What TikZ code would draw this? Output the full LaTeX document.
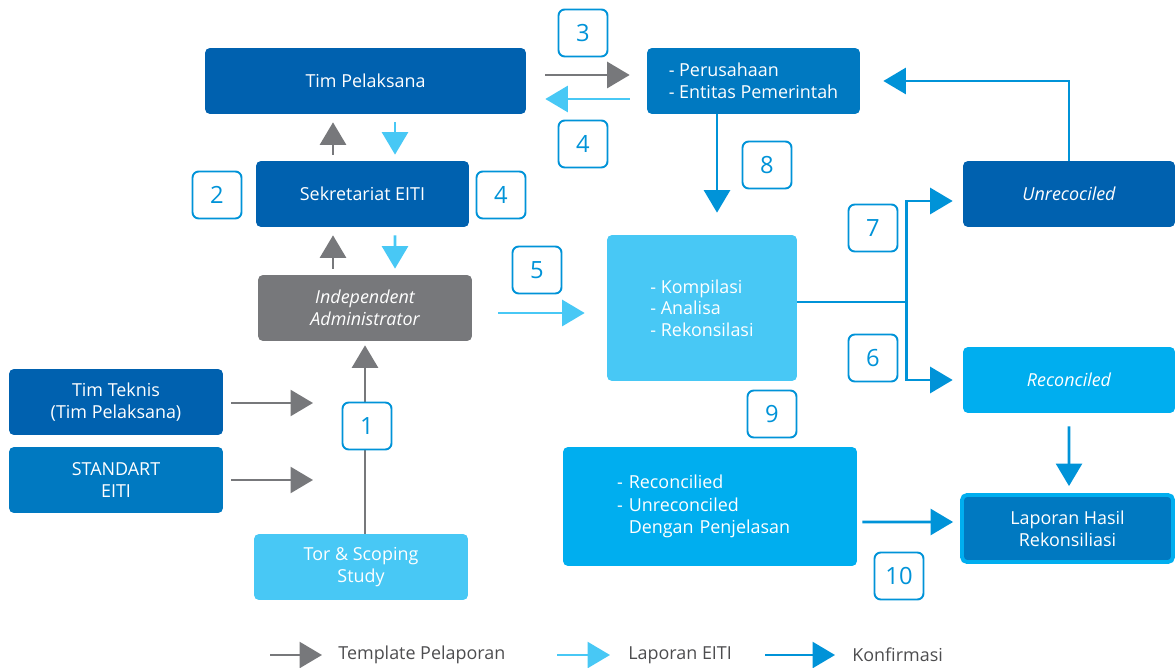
\documentclass[tikz,border=0pt]{standalone}
\usepackage{fontspec}
\setmainfont{Open Sans}
\usetikzlibrary{arrows.meta,calc}

\definecolor{eitidark}{RGB}{0,97,175}
\definecolor{eitimid}{RGB}{0,121,193}
\definecolor{eitilight}{RGB}{72,200,245}
\definecolor{eiticyan}{RGB}{0,174,239}
\definecolor{eitigray}{RGB}{119,120,123}
\definecolor{eitinum}{RGB}{0,147,216}
\definecolor{legendgray}{RGB}{77,77,79}

\newcommand{\boxfont}{\fontsize{10.2}{12.3}\selectfont}

\tikzset{
    box/.style={rounded corners=2.8pt, inner sep=0pt, text=white, align=center,
        minimum width=4.28cm, minimum height=1.32cm, font=\boxfont},
    italicbox/.style={box, font=\boxfont\itshape},
    numbox/.style={draw=eitinum, line width=1.1pt, fill=white, rounded corners=3.5pt,
        minimum width=0.98cm, minimum height=0.94cm, inner sep=0pt, text=eitinum,
        font=\fontsize{13.5}{14}\selectfont},
    arrowline/.style={line width=1.5pt, -{Triangle[length=0.45cm,width=0.52cm]}},
    template/.style={arrowline, draw=eitigray},
    laporan/.style={arrowline, draw=eitilight},
    konfirmasi/.style={arrowline, draw=eitinum},
    legendtext/.style={anchor=west, text=legendgray, inner sep=0pt, font=\boxfont}
}

\begin{document}
\begin{tikzpicture}[x=0.02cm,y=-0.02cm]
    \useasboundingbox (0,0) rectangle (1175,668);

    % left column
    \node[box, fill=eitidark, minimum width=6.42cm] (tim) at (365.5,81) {Tim Pelaksana};
    \node[box, fill=eitidark, minimum width=4.26cm] (sek) at (362.5,194) {Sekretariat EITI};
    \node[italicbox, fill=eitigray] (ia) at (365,308) {Independent\\Administrator};
    \node[box, fill=eitidark] (teknis) at (116,402) {Tim Teknis\\(Tim Pelaksana)};
    \node[box, fill=eitimid] (standart) at (116,480) {STANDART\\EITI};
    \node[box, fill=eitilight] (tor) at (361,567) {Tor \& Scoping\\Study};

    % right side
    \node[box, fill=eitimid, minimum width=4.26cm, align=left] (per) at (753.5,81) {- Perusahaan\\- Entitas Pemerintah};
    \node[box, fill=eitilight, minimum width=3.8cm, minimum height=2.92cm, align=left] (komp) at (702,308) {- Kompilasi\\- Analisa\\- Rekonsilasi};
    \node[italicbox, fill=eitidark, minimum width=4.24cm] (unrec) at (1069,194) {Unrecociled};
    \node[italicbox, fill=eiticyan, minimum width=4.24cm] (rec) at (1069,380) {Reconciled};
    \node[box, fill=eiticyan, minimum width=5.88cm, minimum height=2.38cm, text width=3.72cm, align=left,
        font=\fontsize{10.2}{13}\selectfont] (hasil) at (710,506.5)
        {- Reconcilied\\- Unreconciled\\\hphantom{- }Dengan Penjelasan};
    \node[box, fill=eitimid, draw=eiticyan, line width=2.2pt, minimum width=4.22cm, minimum height=1.34cm] (lap) at (1067.5,528.5)
        {Laporan Hasil\\Rekonsiliasi};

    \coordinate (in1) at (313,403);
    \coordinate (in2) at (313,480);

    % connectors
    \draw[template] ($(tim.east)+(19,-6)$) -- ($(per.west)+(-17,-6)$);
    \draw[laporan] ($(per.west)+(-17,18)$) -- ($(tim.east)+(19,18)$);
    \draw[template] ($(sek.north)+(-29.5,-6)$) -- ($(tim.south)+(-32.5,8)$);
    \draw[laporan] ($(tim.south)+(29.5,8)$) -- ($(sek.north)+(32.5,-6)$);
    \draw[template] ($(ia.north)+(-32,-6)$) -- ($(sek.south)+(-29.5,8)$);
    \draw[laporan] ($(sek.south)+(32.5,8)$) -- ($(ia.north)+(30,-6)$);
    \draw[laporan] ($(ia.east)+(26,5)$) -- ($(komp.west)+(-22,5)$);
    \draw[template] ($(tor.north)+(4,0)$) -- ($(ia.south)+(0,4)$);
    \draw[template] ($(teknis.east)+(8,1)$) -- (in1);
    \draw[template] ($(standart.east)+(8,0)$) -- (in2);

    \draw[konfirmasi] ($(per.south)+(-36.5,0)$) -- ($(komp.north)+(15,-22)$);
    \draw[konfirmasi] ($(komp.east)+(0,-6)$) -- ++(109,0) |- ($(unrec.west)+(-10,7)$);
    \draw[konfirmasi] ($(komp.east)+(109,-6)$) |- ($(rec.west)+(-10,0)$);
    \draw[konfirmasi] (unrec.north) |- ($(per.east)+(23,0)$);
    \draw[konfirmasi] ($(rec.south)+(0,13)$) -- ($(lap.north)+(1.5,-7)$);
    \draw[konfirmasi] ($(hasil.east)+(5,15.5)$) -- ($(lap.west)+(-7,-6.5)$);

    % step numbers
    \node[numbox] (n1) at (367,426) {1};
    \node[numbox] (n2) at (217,195) {2};
    \node[numbox] (n3) at (583,33) {3};
    \node[numbox] (n4a) at (583,144) {4};
    \node[numbox] (n4b) at (501,195) {4};
    \node[numbox] (n5) at (537,270) {5};
    \node[numbox] (n6) at (873,358) {6};
    \node[numbox] (n7) at (873,228) {7};
    \node[numbox] (n8) at (767,165) {8};
    \node[numbox] (n9) at (772,414) {9};
    \node[numbox] (n10) at (899,576) {10};

    % legend
    \node[legendtext] (lg1) at (338,655) {Template Pelaporan};
    \node[legendtext] (lg2) at (628,655) {Laporan EITI};
    \node[legendtext] (lg3) at (852,655) {Konfirmasi};
    \draw[template] ($(lg1.west)+(-68,0)$) -- ($(lg1.west)+(-16,0)$);
    \draw[laporan] ($(lg2.west)+(-71,0)$) -- ($(lg2.west)+(-18,0)$);
    \draw[konfirmasi] ($(lg3.west)+(-87,0)$) -- ($(lg3.west)+(-17,0)$);
\end{tikzpicture}
\end{document}
